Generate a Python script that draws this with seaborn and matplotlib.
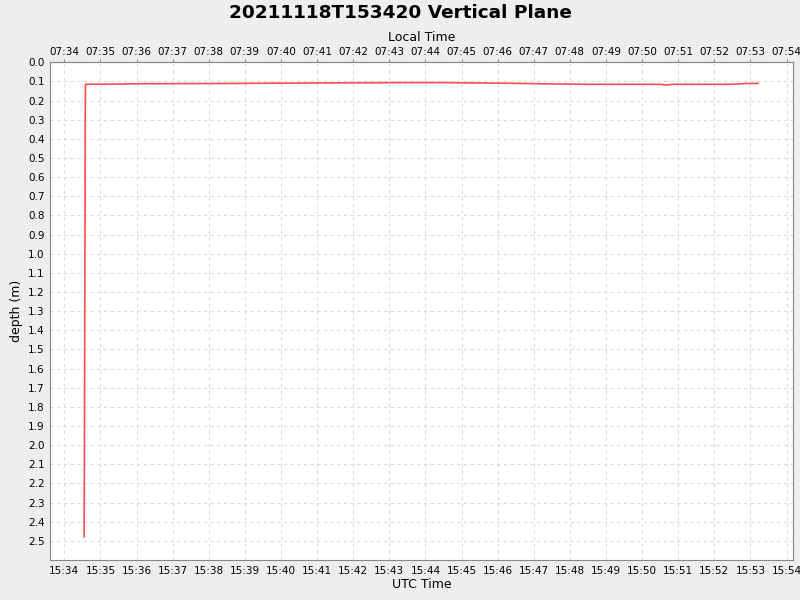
import seaborn as sns
import numpy as np
import pandas as pd
import matplotlib
matplotlib.use("Agg")
import matplotlib.pyplot as plt
import matplotlib.dates as mdates

# readings (UTC time, depth in m)
times = ["15:34:33", "15:34:35", "15:35:30", "15:36:00", "15:38:00", "15:40:00",
         "15:42:00", "15:43:30", "15:44:30", "15:45:30", "15:46:30", "15:47:30",
         "15:48:30", "15:50:00", "15:50:30", "15:50:41", "15:50:50", "15:52:30",
         "15:52:50", "15:53:13"]
depths = [2.48, 0.115, 0.114, 0.112, 0.111, 0.109,
          0.107, 0.106, 0.106, 0.108, 0.110, 0.113,
          0.115, 0.115, 0.115, 0.119, 0.115, 0.115,
          0.111, 0.110]

df = pd.DataFrame({"time": pd.to_datetime(["2021-11-18 " + t for t in times]),
                   "depth": depths})

sns.set_style("white")
plt.rcParams['font.family'] = ['DejaVu Sans']
plt.rcParams['text.color'] = 'black'
plt.rcParams['axes.labelcolor'] = 'black'
plt.rcParams['xtick.labelcolor'] = 'black'
plt.rcParams['ytick.labelcolor'] = 'black'

fig = plt.figure(figsize=(8, 6), dpi=100, facecolor="#eeeeee")
ax = fig.add_axes([50.3/800, 40/600, 742.4/800, 497.7/600])
ax.set_facecolor("white")

sns.lineplot(data=df, x="time", y="depth", ax=ax, color="#ff4c4c", linewidth=1.2)

x0 = pd.Timestamp("2021-11-18 15:33:36.7")
x1 = pd.Timestamp("2021-11-18 15:54:10.3")
ax.set_xlim(x0, x1)
ax.set_ylim(2.6, 0.0)
ax.set_yticks(np.round(np.arange(0, 2.51, 0.1), 1))
ax.yaxis.set_major_formatter(plt.FormatStrFormatter("%.1f"))

ax.xaxis.set_major_locator(mdates.MinuteLocator())
ax.xaxis.set_major_formatter(mdates.DateFormatter("%H:%M"))

top = ax.secondary_xaxis("top", functions=(lambda x: x - 8/24, lambda x: x + 8/24))
top.xaxis.set_major_locator(mdates.MinuteLocator())
top.xaxis.set_major_formatter(mdates.DateFormatter("%H:%M"))
top.set_xlabel("Local Time", fontsize=9, labelpad=4, color="black")
top.tick_params(labelsize=7.5, length=2, color="#888888", labelcolor="black", pad=2)
top.spines["top"].set_color("#888888")

ax.grid(True, color="#dcdcdc", linestyle=(0, (3, 3)), linewidth=0.8)
ax.tick_params(labelsize=7.5, length=2, color="#888888", labelcolor="black", pad=2)
for s in ax.spines.values():
    s.set_color("#888888")
ax.set_xlabel("UTC Time", fontsize=9, labelpad=2, color="black")
ax.set_ylabel("depth (m)", fontsize=9, labelpad=4, color="black")

fig.suptitle("20211118T153420 Vertical Plane", fontsize=13.3, fontweight="bold",
             color="black", y=0.993)

fig.savefig("out.png", dpi=100, facecolor=fig.get_facecolor())
